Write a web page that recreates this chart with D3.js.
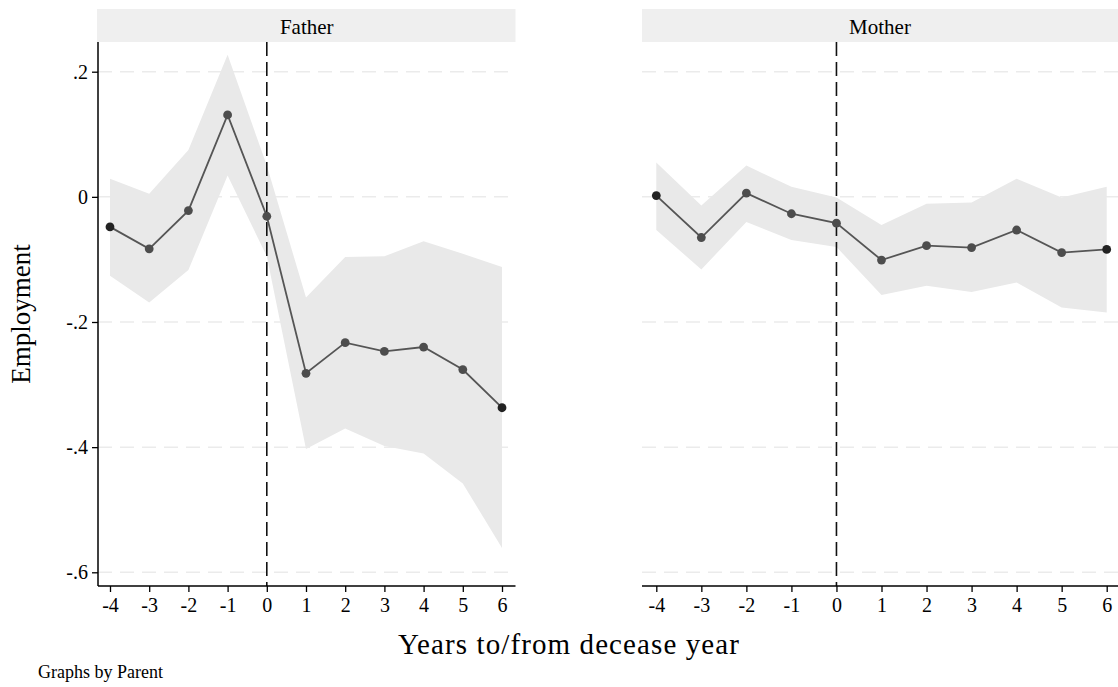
<!DOCTYPE html>
<html>
<head>
<meta charset="utf-8">
<script src="https://cdn.jsdelivr.net/npm/d3@7"></script>
<style>
  html, body { margin: 0; padding: 0; background: #fff; }
  svg { display: block; font-family: "Liberation Serif", "Times New Roman", serif; }
</style>
</head>
<body>
<svg id="chart" width="1118" height="687"></svg>
<script>
// Event-study estimates of employment around a parent's death, with 95% CIs
const years = [-4, -3, -2, -1, 0, 1, 2, 3, 4, 5, 6];

const fatherCoef = [-0.048, -0.083, -0.022, 0.131, -0.031, -0.282, -0.233, -0.247, -0.240, -0.276, -0.337];
const fatherLow  = [-0.126, -0.169, -0.117, 0.034, -0.095, -0.403, -0.370, -0.398, -0.410, -0.458, -0.561];
const fatherHigh = [0.029, 0.005, 0.075, 0.227, 0.050, -0.161, -0.096, -0.095, -0.071, -0.091, -0.112];

const motherCoef = [0.002, -0.065, 0.006, -0.027, -0.042, -0.101, -0.078, -0.081, -0.053, -0.089, -0.084];
const motherLow  = [-0.053, -0.116, -0.040, -0.069, -0.080, -0.157, -0.142, -0.152, -0.137, -0.177, -0.185];
const motherHigh = [0.055, -0.014, 0.050, 0.016, -0.001, -0.045, -0.011, -0.009, 0.029, -0.001, 0.016];

const panelNames = ["Father", "Mother"];
const yTicks = [0.2, 0, -0.2, -0.4, -0.6];
const yTickLabels = [".2", "0", "-.2", "-.4", "-.6"];
const xTicks = [-4, -3, -2, -1, 0, 1, 2, 3, 4, 5, 6];
const xTickLabels = ["-4", "-3", "-2", "-1", "0", "1", "2", "3", "4", "5", "6"];
const eventYear = 0;

const yTitle = "Employment";
const xTitle = "Years to/from decease year";
const note = "Graphs by Parent";

const FONT = "Liberation Serif, Times New Roman, serif";
const svg = d3.select("#chart");

// Shared vertical geometry
const plotTop = 42, plotBottom = 586;
const stripTop = 9;
const y = d3.scaleLinear().domain([0.2, -0.6]).range([71.7, 572.3]);

const panels = [
  { name: panelNames[0], left: 98, right: 515.5, x: d3.scaleLinear().domain([-4, 6]).range([110, 502]),
    coef: fatherCoef, lo: fatherLow, hi: fatherHigh, yAxis: true },
  { name: panelNames[1], left: 642, right: 1118, x: d3.scaleLinear().domain([-4, 6]).range([656.3, 1106.7]),
    coef: motherCoef, lo: motherLow, hi: motherHigh, yAxis: false }
];

panels.forEach(p => {
  const g = svg.append("g");
  const rows = years.map((yr, i) => ({ yr, c: p.coef[i], lo: p.lo[i], hi: p.hi[i] }));

  // facet strip
  g.append("rect")
    .attr("x", p.left - (p.yAxis ? 1 : 0)).attr("y", stripTop)
    .attr("width", p.right - p.left + (p.yAxis ? 1 : 0)).attr("height", plotTop - stripTop)
    .attr("fill", "#efefef");
  g.append("text")
    .attr("x", (p.left + p.right) / 2).attr("y", 34)
    .attr("text-anchor", "middle").attr("font-size", 21).attr("fill", "#000")
    .text(p.name);

  // horizontal grid
  g.selectAll(".grid").data(yTicks).join("line")
    .attr("x1", p.left).attr("x2", p.right)
    .attr("y1", d => y(d)).attr("y2", d => y(d))
    .attr("stroke", "#ebebeb").attr("stroke-width", 1.5)
    .attr("stroke-dasharray", "14,8");

  // confidence band
  const area = d3.area()
    .x(d => p.x(d.yr)).y0(d => y(d.lo)).y1(d => y(d.hi));
  g.append("path").datum(rows)
    .attr("d", area).attr("fill", "#e9e9e9");

  // event line
  g.append("line")
    .attr("x1", p.x(eventYear)).attr("x2", p.x(eventYear))
    .attr("y1", plotTop).attr("y2", plotBottom)
    .attr("stroke", "#111").attr("stroke-width", 1.6)
    .attr("stroke-dasharray", "14,6");

  // point estimates
  const line = d3.line().x(d => p.x(d.yr)).y(d => y(d.c));
  g.append("path").datum(rows)
    .attr("d", line).attr("fill", "none")
    .attr("stroke", "#555").attr("stroke-width", 1.8);
  g.selectAll(".pt").data(rows).join("circle")
    .attr("cx", d => p.x(d.yr)).attr("cy", d => y(d.c)).attr("r", 4.4)
    .attr("fill", (d, i) => (i === 0 || i === rows.length - 1) ? "#222" : "#4d4d4d");

  // x axis
  const xAxis = d3.axisBottom(p.x).tickValues(xTicks).tickSize(6).tickPadding(6)
    .tickFormat((d, i) => xTickLabels[i]);
  const xg = g.append("g").attr("transform", `translate(0,${plotBottom})`).call(xAxis)
    .attr("font-family", FONT);
  xg.select(".domain").remove();
  xg.append("line").attr("x1", p.left).attr("x2", p.right).attr("y1", 0).attr("y2", 0)
    .attr("stroke", "#000").attr("stroke-width", 1.5);
  xg.selectAll(".tick line").attr("stroke", "#000").attr("stroke-width", 1.3);
  xg.selectAll(".tick text").attr("font-size", 20).attr("fill", "#000");

  // y axis (left panel only)
  if (p.yAxis) {
    const yAxis = d3.axisLeft(y).tickValues(yTicks).tickSize(6).tickPadding(4)
      .tickFormat((d, i) => yTickLabels[i]);
    const yg = g.append("g").attr("transform", `translate(${p.left},0)`).call(yAxis)
      .attr("font-family", FONT);
    yg.select(".domain").remove();
    yg.append("line").attr("x1", 0).attr("x2", 0).attr("y1", plotTop).attr("y2", plotBottom)
      .attr("stroke", "#000").attr("stroke-width", 1.5);
    yg.selectAll(".tick line").attr("stroke", "#000").attr("stroke-width", 1.3);
    yg.selectAll(".tick text").attr("font-size", 20).attr("fill", "#000");
  }
});

// axis titles and note
svg.append("text")
  .attr("transform", `translate(30,${(plotTop + plotBottom) / 2}) rotate(-90)`)
  .attr("text-anchor", "middle").attr("font-size", 27).attr("fill", "#000")
  .text(yTitle);

svg.append("text")
  .attr("x", 569).attr("y", 654)
  .attr("text-anchor", "middle").attr("font-size", 29).attr("letter-spacing", 1.1).attr("fill", "#000")
  .text(xTitle);

svg.append("text")
  .attr("x", 38).attr("y", 678)
  .attr("font-size", 18).attr("fill", "#000")
  .text(note);
</script>
</body>
</html>
